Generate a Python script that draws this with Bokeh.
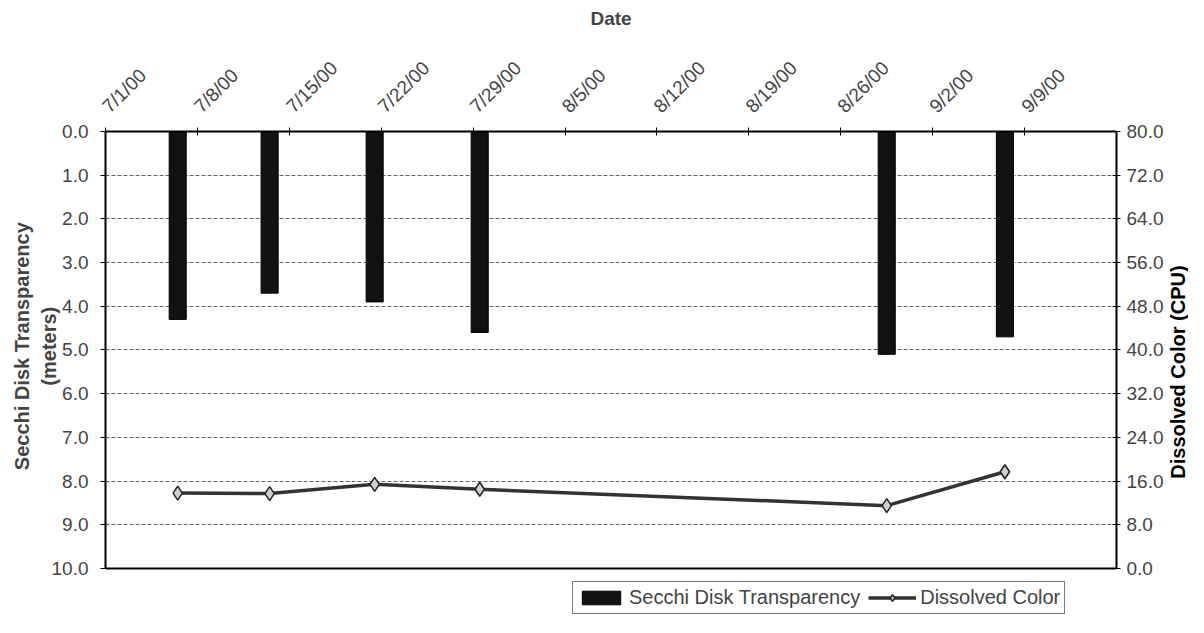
from math import pi
import pandas as pd
from bokeh.plotting import figure
from bokeh.layouts import row
from bokeh.core.properties import value
from bokeh.models import (Range1d, LinearAxis, FixedTicker, NumeralTickFormatter,
                          Legend, LegendItem, ColumnDataSource, Span)
from bokeh.embed import file_html
from bokeh.resources import INLINE

# ---------------- data ----------------
axis_start = "2000-07-01"
axis_end = "2000-09-16"
tick_labels = ["7/1/00", "7/8/00", "7/15/00", "7/22/00", "7/29/00", "8/5/00",
               "8/12/00", "8/19/00", "8/26/00", "9/2/00", "9/9/00"]
sample_dates = ["2000-07-06", "2000-07-13", "2000-07-21", "2000-07-29",
                "2000-08-29", "2000-09-07"]
secchi_m = [4.3, 3.7, 3.9, 4.6, 5.1, 4.7]
color_cpu = [13.8, 13.7, 15.4, 14.5, 11.5, 17.7]
left_ticks = [0, 1, 2, 3, 4, 5, 6, 7, 8, 9, 10]
right_ticks = [0, 8, 16, 24, 32, 40, 48, 56, 64, 72, 80]

FONT = "Liberation Sans"
DAY_CENTER = 0.5   # Excel date axis centres each day's column inside the day
DEPTH_MAX = 10.0   # left axis 0..10 m (inverted)
CPU_MAX = 80.0     # right axis 0..80 CPU
LEGEND_ROOM = 1.1  # extra room under the plot box (in metres) that holds the legend

H = 617
TITLE_W = 22
TOP = 131
TITLE_Y = 306      # vertical anchor (px from top) of the right-hand title
NBSP = "\u00a0" * 10   # keeps the left title centred on the 0-10 box, not on the legend room

t0 = pd.Timestamp(axis_start)
span_days = (pd.Timestamp(axis_end) - t0).days
tick_days = [(pd.to_datetime(t, format="%m/%d/%y") - t0).days for t in tick_labels]
x_days = [(pd.Timestamp(d) - t0).days + DAY_CENTER for d in sample_dates]

src = ColumnDataSource(dict(x=x_days, secchi=secchi_m, cpu=color_cpu))

p = figure(width=1188 - TITLE_W, height=H, output_backend="svg", toolbar_location=None,
           x_range=Range1d(0, span_days),
           y_range=Range1d(DEPTH_MAX + LEGEND_ROOM, 0),
           x_axis_location="above",
           min_border_left=105, min_border_right=48, min_border_top=TOP,
           min_border_bottom=1)
p.extra_y_ranges = {"cpu": Range1d(-LEGEND_ROOM * CPU_MAX / DEPTH_MAX, CPU_MAX)}

p.outline_line_color = None
p.background_fill_color = "white"
p.border_fill_color = "white"

# grid
p.xgrid.grid_line_color = None
p.ygrid.ticker = FixedTicker(ticks=left_ticks)
p.ygrid.grid_line_color = "#666666"
p.ygrid.grid_line_dash = "4 2"
p.ygrid.grid_line_width = 1

# bottom edge of the plot box
p.add_layout(Span(location=DEPTH_MAX, dimension="width", line_color="black",
                  line_width=2))

# top date axis
xa = p.xaxis[0]
xa.ticker = FixedTicker(ticks=tick_days)
xa.major_label_overrides = {d: lab for d, lab in zip(tick_days, tick_labels)}
xa.major_label_orientation = pi / 4
xa.axis_label = "Date"
xa.axis_label_text_font = FONT
xa.axis_label_text_font_style = "bold"
xa.axis_label_text_font_size = "19px"
xa.axis_label_standoff = 18
xa.major_label_text_font = FONT
xa.major_label_text_font_size = "19px"
xa.major_label_standoff = 18
xa.major_tick_in = 4
xa.major_tick_out = 4
xa.minor_tick_line_color = None
xa.axis_line_width = 2

# left axis
ya = p.yaxis[0]
ya.ticker = FixedTicker(ticks=left_ticks)
ya.bounds = (0, DEPTH_MAX)
ya.formatter = NumeralTickFormatter(format="0.0")
ya.axis_label = NBSP + "Secchi Disk Transparency\n" + NBSP + "(meters)"
ya.axis_label_text_font = FONT
ya.axis_label_text_font_style = "bold"
ya.axis_label_text_font_size = "20px"
ya.axis_label_standoff = -11
ya.major_label_text_font = FONT
ya.major_label_text_font_size = "19px"
ya.major_label_standoff = 12
ya.major_tick_in = 0
ya.major_tick_out = 5
ya.minor_tick_line_color = None
ya.axis_line_width = 2

# right axis
ra = LinearAxis(y_range_name="cpu", ticker=FixedTicker(ticks=right_ticks),
                formatter=NumeralTickFormatter(format="0.0"), bounds=(0, CPU_MAX))
ra.major_label_text_font = FONT
ra.major_label_text_font_size = "19px"
ra.major_label_standoff = 6
ra.major_tick_in = 4
ra.major_tick_out = 4
ra.minor_tick_line_color = None
ra.axis_line_width = 2
p.add_layout(ra, "right")

# marks
bars = p.vbar(x="x", top="secchi", bottom=0, width=1.3, source=src,
              fill_color="#111111", line_color="#000000")
line = p.line(x="x", y="cpu", source=src, y_range_name="cpu",
              line_color="#333333", line_width=3.5)
pts = p.scatter(x="x", y="cpu", source=src, y_range_name="cpu", marker="diamond",
                size=14, fill_color="#d0d0d0", line_color="#222222", line_width=1.5)

legend = Legend(items=[LegendItem(label="Secchi Disk Transparency", renderers=[bars]),
                       LegendItem(label="Dissolved Color", renderers=[line, pts])],
                orientation="horizontal", location=(467, 2),
                label_text_font=FONT, label_text_font_size="20px",
                glyph_width=48, glyph_height=17, padding=4, spacing=8,
                label_standoff=4, border_line_color="black", border_line_width=1,
                background_fill_alpha=1.0)
p.add_layout(legend, "center")

# right-hand axis title, reading bottom-to-top as in the original
t = figure(width=TITLE_W, height=H, output_backend="svg", toolbar_location=None,
           x_range=Range1d(0, 1), y_range=Range1d(H, 0),
           x_axis_location=None, y_axis_location=None, min_border=0)
t.outline_line_color = None
t.grid.grid_line_color = None
t.background_fill_color = "white"
t.border_fill_color = "white"
t.text(x=[0.5], y=[TITLE_Y], text=["Dissolved Color (CPU)"],
       angle=pi / 2, text_align="center", text_baseline="middle",
       text_font=value(FONT), text_font_style="bold", text_font_size="20px",
       text_color="black")

layout = row(p, t, spacing=0)
open("out.html", "w").write(file_html(layout, INLINE))
